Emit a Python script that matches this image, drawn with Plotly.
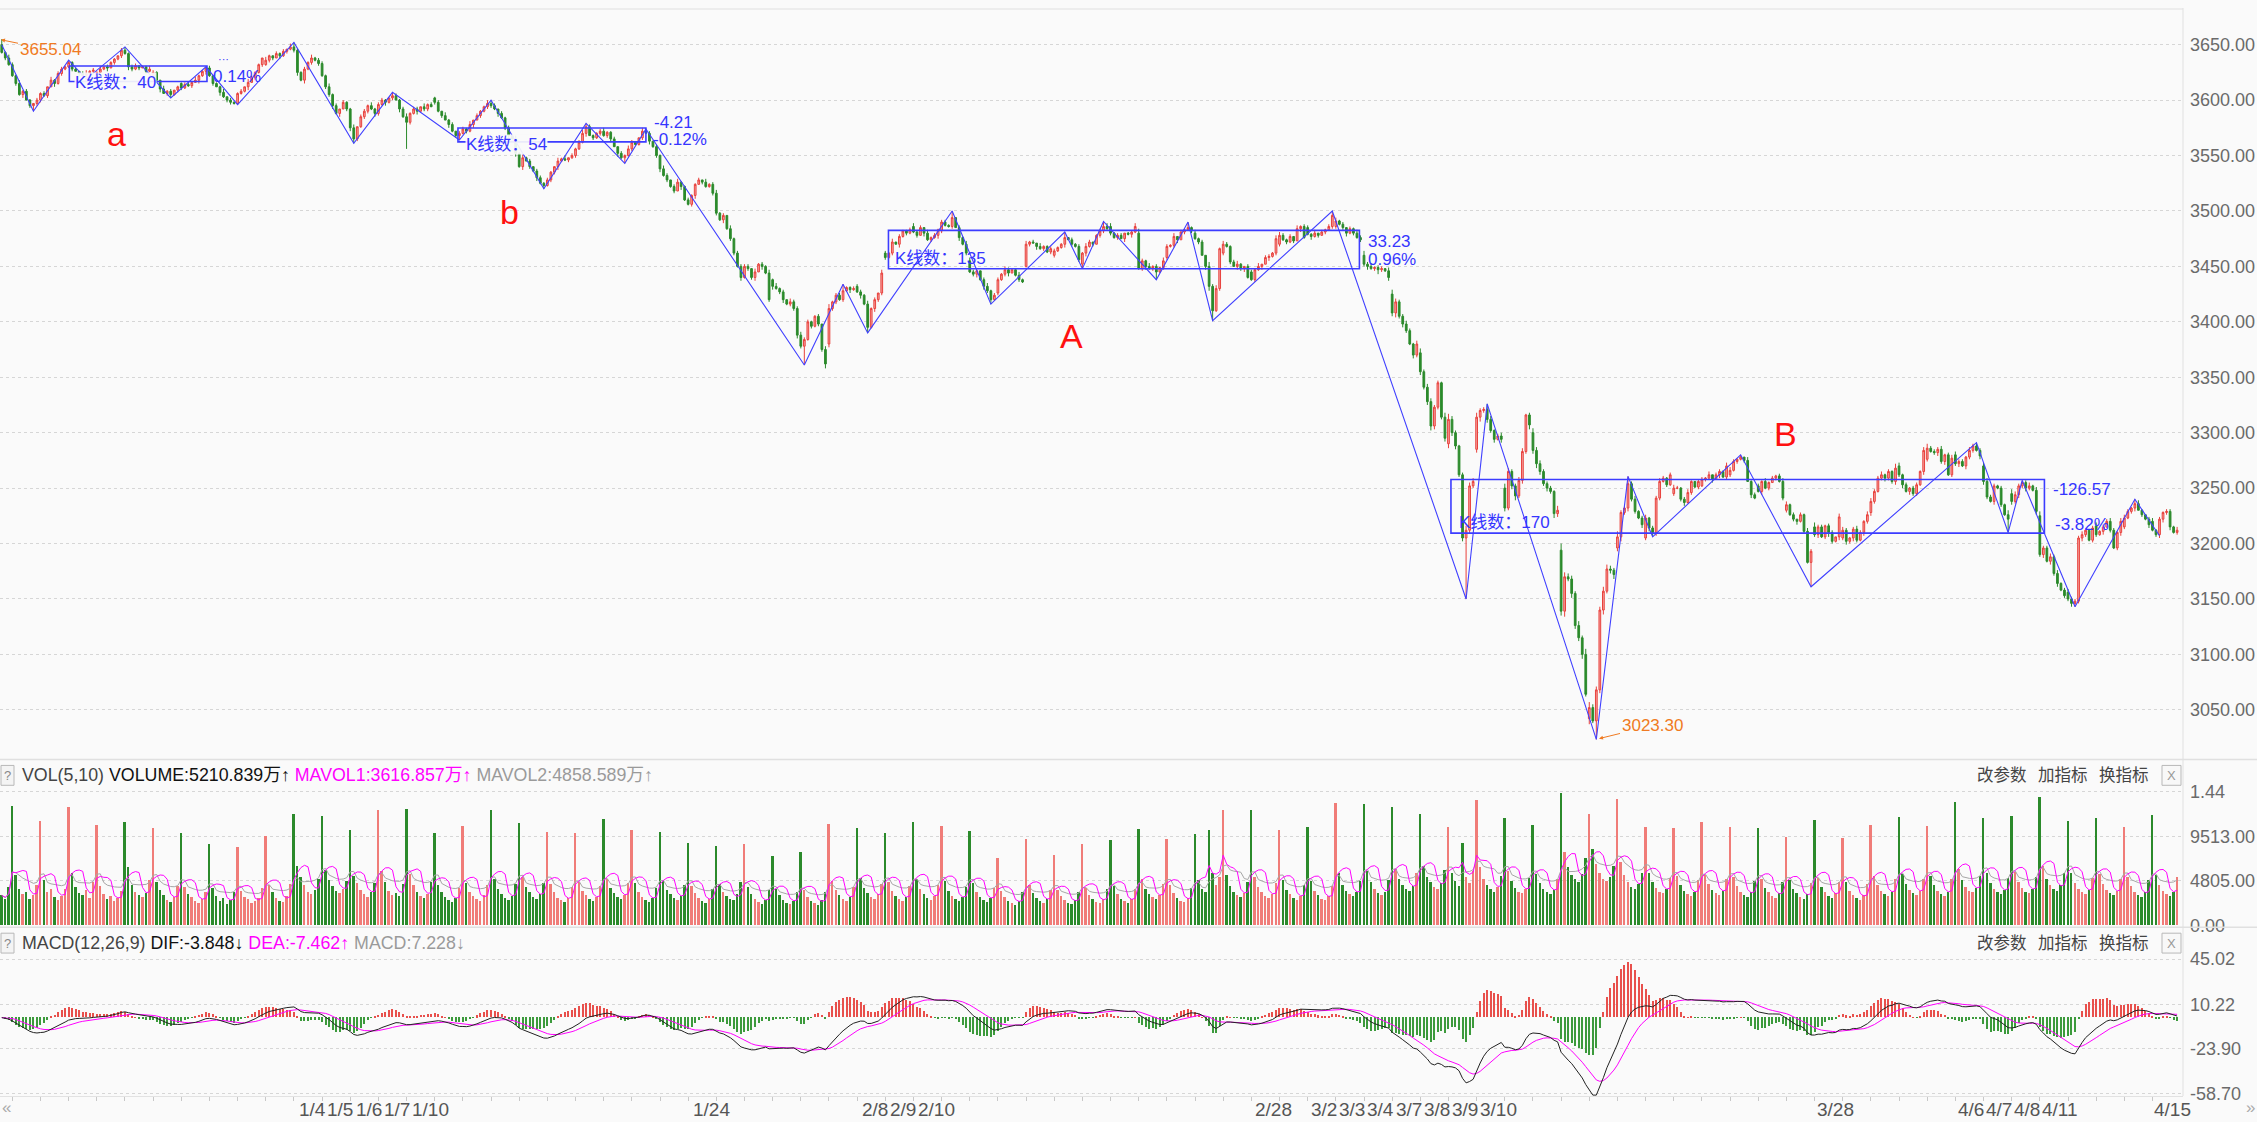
import numpy as np
import pandas as pd
import plotly.graph_objects as go

# ---------------- data (30-min bars) ----------------
FIRST_OPEN = 3650
FIRST_CLOSE = [3643, 3638, 3632]          # tail of the first (partial) day
FIRST_UW = [2, 1, 3]
FIRST_LW = [1, 2, 1]
FIRST_VOL = [3200, 2800, 4100]

DAY_DATES = ["12/20", "12/21", "12/22", "12/23", "12/24", "12/27", "12/28", "12/29", "12/30", "12/31",
             "1/4", "1/5", "1/6", "1/7", "1/10", "1/11", "1/12", "1/13", "1/14", "1/17",
             "1/18", "1/19", "1/20", "1/21", "1/24", "1/25", "1/26", "1/27", "1/28", "2/7",
             "2/8", "2/9", "2/10", "2/11", "2/14", "2/15", "2/16", "2/17", "2/18", "2/21",
             "2/22", "2/23", "2/24", "2/25", "2/28", "3/1", "3/2", "3/3", "3/4", "3/7",
             "3/8", "3/9", "3/10", "3/11", "3/14", "3/15", "3/16", "3/17", "3/18", "3/21",
             "3/22", "3/23", "3/24", "3/25", "3/28", "3/29", "3/30", "3/31", "4/1", "4/6",
             "4/7", "4/8", "4/11", "4/12", "4/13", "4/14", "4/15"]
SHOWN_DATES = ["1/4", "1/5", "1/6", "1/7", "1/10", "1/24", "2/8", "2/9", "2/10", "2/28",
               "3/2", "3/3", "3/4", "3/7", "3/8", "3/9", "3/10", "3/28", "4/6", "4/7", "4/8", "4/11", "4/15"]

DAY_OPEN = [3632, 3600, 3630, 3620, 3645, 3621, 3615, 3629, 3597, 3632,
            3648, 3633, 3592, 3588, 3585, 3602, 3570, 3597, 3552, 3523,
            3550, 3572, 3556, 3550, 3510, 3516, 3440, 3438, 3388, 3380,
            3432, 3462, 3486, 3482, 3455, 3426, 3450, 3460, 3452, 3486,
            3480, 3458, 3480, 3462, 3445, 3470, 3485, 3486, 3460, 3425,
            3372, 3290, 3285, 3250, 3300, 3194, 3042, 3196, 3205, 3245,
            3252, 3262, 3252, 3230, 3215, 3205, 3228, 3270, 3276, 3280,
            3270, 3245, 3225, 3156, 3216, 3215, 3220]

DAY_CLOSE = [
    [3622, 3615, 3605, 3608, 3600, 3595, 3597, 3600],
    [3606, 3604, 3612, 3618, 3615, 3624, 3628, 3630],
    [3634, 3628, 3626, 3624, 3622, 3624, 3626, 3627],
    [3625, 3628, 3630, 3629, 3634, 3637, 3640, 3645],
    [3642, 3630, 3628, 3631, 3629, 3630, 3626, 3628],
    [3625, 3618, 3610, 3606, 3608, 3605, 3609, 3612],
    [3611, 3614, 3613, 3616, 3618, 3622, 3626, 3629],
    [3622, 3615, 3612, 3607, 3603, 3600, 3598, 3597],
    [3606, 3608, 3612, 3616, 3620, 3625, 3632, 3638],
    [3636, 3640, 3638, 3642, 3640, 3644, 3646, 3648],
    [3645, 3625, 3618, 3628, 3634, 3638, 3636, 3633],
    [3622, 3612, 3605, 3595, 3588, 3592, 3598, 3592],
    [3575, 3565, 3576, 3585, 3590, 3595, 3592, 3588],
    [3596, 3600, 3598, 3602, 3604, 3600, 3592, 3585],
    [3580, 3588, 3592, 3590, 3594, 3592, 3596, 3594],
    [3598, 3590, 3586, 3582, 3578, 3572, 3568, 3570],
    [3574, 3572, 3578, 3582, 3586, 3590, 3594, 3597],
    [3595, 3592, 3588, 3584, 3575, 3568, 3565, 3552],
    [3540, 3548, 3545, 3540, 3536, 3530, 3525, 3523],
    [3528, 3535, 3540, 3545, 3547, 3546, 3548, 3550],
    [3556, 3562, 3570, 3576, 3568, 3566, 3570, 3572],
    [3568, 3571, 3565, 3558, 3552, 3548, 3550, 3556],
    [3562, 3560, 3566, 3572, 3570, 3563, 3558, 3550],
    [3538, 3532, 3528, 3522, 3518, 3526, 3522, 3510],
    [3506, 3514, 3524, 3528, 3526, 3522, 3524, 3516],
    [3498, 3492, 3496, 3484, 3475, 3462, 3450, 3440],
    [3450, 3448, 3440, 3445, 3452, 3450, 3444, 3420],
    [3432, 3430, 3427, 3420, 3416, 3418, 3412, 3388],
    [3378, 3384, 3400, 3396, 3405, 3398, 3375, 3362],
    [3412, 3418, 3424, 3420, 3428, 3431, 3429, 3430],
    [3427, 3424, 3416, 3395, 3412, 3420, 3426, 3444],
    [3458, 3462, 3472, 3470, 3477, 3482, 3480, 3483],
    [3481, 3478, 3485, 3480, 3474, 3476, 3478, 3483],
    [3490, 3487, 3486, 3494, 3485, 3476, 3470, 3462],
    [3445, 3443, 3446, 3438, 3432, 3428, 3420, 3424],
    [3438, 3443, 3447, 3444, 3447, 3442, 3438, 3436],
    [3470, 3472, 3471, 3468, 3466, 3468, 3463, 3466],
    [3464, 3467, 3470, 3476, 3474, 3470, 3468, 3456],
    [3462, 3468, 3472, 3470, 3478, 3482, 3486, 3484],
    [3480, 3476, 3478, 3475, 3480, 3479, 3481, 3486],
    [3448, 3455, 3450, 3448, 3450, 3445, 3449, 3455],
    [3468, 3469, 3477, 3474, 3481, 3483, 3485, 3482],
    [3475, 3472, 3460, 3450, 3432, 3410, 3430, 3466],
    [3470, 3468, 3454, 3450, 3452, 3448, 3450, 3440],
    [3438, 3447, 3450, 3452, 3458, 3459, 3462, 3475],
    [3478, 3474, 3472, 3477, 3473, 3484, 3486, 3476],
    [3479, 3477, 3480, 3478, 3481, 3483, 3486, 3496],
    [3491, 3488, 3485, 3480, 3484, 3480, 3476, 3474],
    [3452, 3450, 3448, 3449, 3447, 3448, 3446, 3440],
    [3408, 3418, 3405, 3398, 3392, 3380, 3370, 3380],
    [3355, 3341, 3328, 3306, 3323, 3345, 3314, 3295],
    [3312, 3300, 3288, 3262, 3205, 3212, 3252, 3256],
    [3314, 3320, 3321, 3312, 3302, 3294, 3297, 3294],
    [3232, 3265, 3252, 3243, 3257, 3283, 3316, 3307],
    [3284, 3272, 3265, 3254, 3250, 3247, 3227, 3230],
    [3139, 3170, 3168, 3155, 3126, 3115, 3100, 3064],
    [3052, 3040, 3068, 3140, 3157, 3177, 3176, 3172],
    [3206, 3228, 3232, 3254, 3240, 3229, 3223, 3217],
    [3223, 3214, 3210, 3241, 3256, 3259, 3253, 3262],
    [3250, 3250, 3240, 3237, 3246, 3256, 3251, 3256],
    [3258, 3259, 3262, 3258, 3262, 3265, 3260, 3270],
    [3266, 3274, 3276, 3278, 3275, 3256, 3244, 3241],
    [3247, 3256, 3250, 3255, 3259, 3261, 3256, 3241],
    [3235, 3226, 3222, 3220, 3226, 3211, 3183, 3193],
    [3208, 3215, 3206, 3216, 3210, 3202, 3206, 3224],
    [3212, 3202, 3205, 3213, 3203, 3210, 3220, 3226],
    [3238, 3247, 3259, 3262, 3259, 3265, 3256, 3268],
    [3262, 3253, 3247, 3250, 3245, 3253, 3265, 3284],
    [3286, 3283, 3282, 3285, 3274, 3280, 3262, 3277],
    [3272, 3274, 3270, 3278, 3284, 3288, 3284, 3279],
    [3256, 3242, 3238, 3252, 3250, 3235, 3226, 3222],
    [3238, 3244, 3252, 3255, 3250, 3252, 3248, 3229],
    [3190, 3196, 3184, 3188, 3173, 3164, 3158, 3153],
    [3150, 3146, 3148, 3205, 3208, 3212, 3203, 3214],
    [3208, 3211, 3215, 3220, 3212, 3196, 3210, 3220],
    [3223, 3229, 3232, 3236, 3230, 3226, 3222, 3217],
    [3212, 3208, 3222, 3228, 3229, 3215, 3210, 3212],
]

# upper / lower shadow lengths (points), one digit per bar, one string per day
UPPER_WICK = [
    "21312102", "12031221", "21102312", "13021102", "31220113", "21031201", "12203112", "20113021", "12032110", "31021203",
    "32121312", "21312021", "13022131", "22103212", "31220312", "12031202", "21302113", "32021203", "13120221", "21031302",
    "12302112", "31120213", "21031202", "13202311", "21120312", "31203122", "22031213", "13120322", "32211203", "41223112",
    "22131203", "21302112", "31203121", "22130213", "32102312", "21320131", "31203112", "21130212", "13201213", "31220113",
    "42131203", "21302121", "31204231", "32123102", "21302213", "32120312", "21302123", "31202132", "42312203", "43223213",
    "42332214", "53212433", "42223123", "43223312", "43322214", "64332425", "53334432", "52232312", "31223212", "32123102",
    "21302213", "32120312", "21312123", "31202132", "42212203", "32123213", "32231214", "31212213", "42223123", "32213212",
    "33221214", "43232313", "42232312", "32223212", "31223213", "32123102", "31212213"]
LOWER_WICK = [
    "12130212", "21203121", "12021312", "21130212", "13212021", "12302112", "21120313", "12031221", "21130212", "12203121",
    "23131212", "12231302", "31212213", "21312031", "42131220", "21203121", "12130212", "21312203", "13021312", "12230121",
    "21130212", "12303121", "21120312", "31212031", "12302112", "21312213", "12230312", "31231223", "23121224", "32212131",
    "13121322", "21203121", "12031213", "21120312", "12313231", "21230121", "12031212", "21130212", "13120221", "21203131",
    "12312312", "21230212", "12034212", "21203231", "12130312", "21212031", "13120212", "21231212", "23124213", "34232132",
    "32343223", "43323432", "34232313", "32342324", "34323243", "45243342", "52434234", "34232213", "23132121", "21231212",
    "12130312", "21212031", "13120212", "21231212", "23124213", "23232132", "32123223", "23132213", "21232312", "23132213",
    "32131212", "32323213", "23132312", "23123212", "21312123", "21230213", "12132312"]

# swing extremes (bar index -> price)
HIGH_AT = {0: 3655.04, 19: 3636, 35: 3648, 58: 3630, 83: 3652, 111: 3607, 139: 3600, 166: 3579,
           183: 3574, 239: 3434, 270: 3500, 302: 3481, 313: 3490.5, 337: 3490, 378: 3500, 422: 3326,
           462: 3260.6, 494: 3280, 561: 3291, 574: 3257, 606: 3240}
LOW_AT = {9: 3590, 24: 3619, 48: 3602, 67: 3596, 100: 3561, 115: 3556, 130: 3564, 154: 3520,
          177: 3543, 228: 3361, 246: 3390, 281: 3416, 307: 3448, 328: 3438, 344: 3401, 416: 3150,
          453: 3023.30, 469: 3206, 514: 3161, 570: 3210, 589: 3143, 613: 3205}

# volume (万), one list per day, first bar of every day is the opening spike
DAY_VOL = [
    [12770, 5400, 3900, 3300, 3600, 2800, 3200, 4300], [11240, 4800, 3500, 3900, 3000, 2700, 3100, 3900],
    [12700, 5600, 4100, 3400, 3200, 3800, 2900, 4600], [10790, 4200, 3300, 2800, 3100, 2600, 2900, 3700],
    [11070, 6200, 4300, 3600, 3200, 3000, 3400, 4800], [10440, 4600, 3800, 3200, 2700, 2500, 3000, 4200],
    [9850, 4100, 3300, 3000, 2600, 2400, 2800, 3600], [8700, 4000, 3100, 2600, 2900, 2300, 2700, 3500],
    [8350, 3700, 3000, 2800, 2400, 2600, 2900, 4000], [9570, 4300, 3500, 2900, 2600, 2500, 3100, 4400],
    [11940, 6400, 5200, 4300, 3600, 3300, 3800, 5000], [11760, 5900, 4800, 4200, 3700, 3400, 3900, 4700],
    [10270, 5300, 4500, 3800, 3300, 3000, 3600, 4500], [12350, 5800, 4600, 3700, 3200, 3400, 3100, 4400],
    [12530, 5500, 4300, 3600, 3100, 2900, 3300, 4600], [9850, 4300, 3500, 3000, 2700, 2500, 2900, 4000],
    [10610, 4500, 3600, 3100, 2800, 2600, 3200, 4300], [12420, 5000, 3900, 3300, 2900, 2700, 3100, 4400],
    [10960, 5200, 4100, 3500, 3000, 2800, 3300, 4500], [9990, 4400, 3500, 2900, 2700, 2500, 2900, 4100],
    [9850, 4600, 3700, 3200, 2800, 2600, 3000, 4200], [11380, 5000, 4000, 3400, 3000, 2800, 3200, 4500],
    [10200, 4500, 3600, 3000, 2700, 2500, 2900, 4000], [9990, 4800, 3800, 3300, 2900, 2700, 3100, 4300],
    [8800, 4200, 3400, 2900, 2600, 2400, 2800, 3900], [8530, 4400, 3600, 3100, 2800, 2700, 3300, 4600],
    [8700, 4100, 3300, 2800, 2500, 2300, 2700, 3800], [7410, 3900, 3200, 2700, 2400, 2300, 2600, 3600],
    [7900, 3800, 3000, 2600, 2400, 2200, 2700, 3500], [10890, 4700, 3800, 3200, 2800, 2600, 3000, 4100],
    [10440, 5100, 4000, 3400, 3000, 2800, 3300, 4400], [9850, 4600, 3700, 3100, 2800, 2600, 3000, 4200],
    [11030, 5000, 3900, 3300, 2900, 2700, 3100, 4300], [10610, 4700, 3700, 3100, 2800, 2600, 3000, 4100],
    [10090, 4500, 3600, 3000, 2700, 2500, 2900, 4000], [7200, 3700, 3000, 2600, 2400, 2200, 2600, 3500],
    [9290, 4300, 3400, 2900, 2600, 2400, 2800, 3800], [7480, 3800, 3100, 2700, 2400, 2300, 2700, 3600],
    [8670, 4000, 3200, 2800, 2500, 2400, 2800, 3900], [9150, 4200, 3300, 2800, 2600, 2400, 2800, 3900],
    [10340, 4900, 3900, 3300, 3000, 2800, 3200, 4400], [9220, 4300, 3400, 2900, 2600, 2500, 2900, 4000],
    [9740, 4800, 3900, 3500, 10200, 5600, 4300, 5200], [12350, 5400, 4200, 3600, 3200, 3000, 3400, 4600],
    [12420, 5200, 4100, 3500, 3100, 2900, 3300, 4500], [10200, 4800, 3800, 3300, 2900, 2700, 3100, 4300],
    [10540, 4700, 3700, 3200, 2800, 2700, 3100, 4200], [13120, 5600, 4300, 3700, 3300, 3100, 3500, 4700],
    [13050, 5800, 4600, 3900, 3400, 3200, 3600, 4800], [12700, 6000, 4900, 4300, 3900, 3700, 4200, 5600],
    [11940, 6300, 5200, 4600, 4100, 3900, 4500, 5900], [10540, 5600, 4700, 4200, 8800, 5200, 4500, 5800],
    [13400, 6200, 5000, 4300, 3900, 3600, 4100, 5300], [11480, 5800, 4700, 4000, 3600, 3400, 3900, 5100],
    [10790, 5500, 4500, 3900, 3500, 3300, 3800, 5000], [14160, 7800, 6200, 5400, 4900, 4600, 5500, 7200],
    [11940, 8200, 6600, 5600, 5000, 4700, 5200, 6400], [13570, 6800, 5400, 4600, 4100, 3900, 4400, 5600],
    [10540, 5600, 4600, 4000, 3600, 3400, 3900, 5100], [10440, 5300, 4300, 3700, 3300, 3100, 3600, 4800],
    [11030, 5400, 4400, 3800, 3400, 3200, 3700, 4900], [10540, 5200, 4200, 3600, 3200, 3000, 3500, 4700],
    [10440, 5000, 4000, 3500, 3100, 2900, 3400, 4600], [9500, 4800, 3900, 3400, 3000, 2800, 3300, 4500],
    [11310, 5100, 4100, 3500, 3100, 2900, 3400, 4600], [9400, 4600, 3700, 3200, 2900, 2700, 3200, 4400],
    [10790, 5300, 4300, 3700, 3300, 3100, 3600, 4900], [11660, 5500, 4400, 3800, 3400, 3200, 3700, 5000],
    [10680, 5300, 4300, 3700, 3300, 3100, 3600, 4900], [13220, 6000, 4800, 4100, 3700, 3500, 4000, 5300],
    [11480, 5600, 4500, 3900, 3500, 3300, 3800, 5100], [11730, 5700, 4600, 4000, 3600, 3400, 3900, 5200],
    [13750, 6300, 5000, 4300, 3900, 3700, 4300, 5600], [11240, 5600, 4500, 3900, 3500, 3300, 3800, 5100],
    [11480, 5500, 4400, 3800, 3400, 3200, 3700, 5000], [10540, 5200, 4200, 3600, 3200, 3000, 3500, 4800],
    [11830, 5400, 4300, 3700, 3300, 3100, 3600, 5211],
]

# zig-zag swing line (bar index, price)
ZZ_BAR = [0, 9, 19, 24, 35, 48, 58, 67, 83, 100, 111, 130, 139, 154, 166, 177, 183, 228, 239, 246,
          270, 281, 302, 307, 313, 328, 337, 344, 378, 416, 422, 453, 462, 469, 494, 514, 561, 570,
          574, 589, 606, 613]
ZZ_PRICE = [3650, 3590, 3636, 3619, 3648, 3602, 3630, 3596, 3652, 3561, 3607, 3564, 3600, 3520,
            3579, 3543, 3574, 3361, 3434, 3390, 3500, 3416, 3481, 3448, 3490.5, 3438, 3490, 3401,
            3500, 3150, 3326, 3023.3, 3260.6, 3206, 3280, 3161, 3291, 3210, 3257, 3143, 3240, 3207]

# consolidation boxes: start bar, end bar, top, bottom, labels
BOX_START = [19.2, 129.6, 251.9, 411.7]
BOX_END = [58.3, 183.0, 385.7, 580.3]
BOX_TOP = [3630.8, 3574.8, 3482.5, 3257.8]
BOX_BOTTOM = [3616.8, 3562.3, 3447.9, 3209.4]
BOX_COUNT = ["K线数：40", "K线数：54", "K线数：135", "K线数：170"]
BOX_DIFF = ["···", "-4.21", "33.23", "-126.57"]
BOX_PCT = ["0.14%", "-0.12%", "0.96%", "-3.82%"]
WAVE_LETTERS = ["a", "b", "A", "B"]

MAIN_TICKS = [3050, 3100, 3150, 3200, 3250, 3300, 3350, 3400, 3450, 3500, 3550, 3600, 3650]
VOL_TICKS = [0, 4805, 9513, 14400]
VOL_TICK_TEXT = ["0.00", "4805.00", "9513.00", "1.44"]
MACD_TICKS = [45.02, 10.22, -23.90, -58.70]

# ---------------- build series ----------------
closes = list(FIRST_CLOSE) + [c for d in DAY_CLOSE for c in d]
uw = list(FIRST_UW) + [int(ch) for s in UPPER_WICK for ch in s]
lw = list(FIRST_LW) + [int(ch) for s in LOWER_WICK for ch in s]
vols = list(FIRST_VOL) + [v for d in DAY_VOL for v in d]
n = len(closes)
day_start = [3 + 8 * k for k in range(len(DAY_CLOSE))]
opens = [FIRST_OPEN] + closes[:-1]
for k, j in enumerate(day_start):
    opens[j] = DAY_OPEN[k]
highs, lows = [], []
for j in range(n):
    hi = max(opens[j], closes[j]) + uw[j]
    lo = min(opens[j], closes[j]) - lw[j]
    if j in HIGH_AT:
        hi = max(HIGH_AT[j], max(opens[j], closes[j]))
    if j in LOW_AT:
        lo = min(LOW_AT[j], min(opens[j], closes[j]))
    highs.append(hi)
    lows.append(lo)
idx = list(range(n))
up = [closes[j] >= opens[j] for j in idx]

cs = pd.Series(closes, dtype=float)
dif = cs.ewm(span=12, adjust=False).mean() - cs.ewm(span=26, adjust=False).mean()
dea = dif.ewm(span=9, adjust=False).mean()
macd = 2 * (dif - dea)
vs = pd.Series(vols, dtype=float)
mavol1 = vs.rolling(5, min_periods=1).mean()
mavol2 = vs.rolling(10, min_periods=1).mean()

# ---------------- styling ----------------
BG = "#fafafa"
RED = "#e8413c"
RED_FILL = "#f5a3a0"
GREEN = "#2b8a2b"
BLUE = "#3535ff"
FONT = "Liberation Sans, Noto Sans CJK SC, sans-serif"
W_PLOT, H_PLOT = 2183, 1096
BAR_PX = W_PLOT / 620.17


def px(x):
    return x / W_PLOT


def py(y):
    return (H_PLOT - y) / H_PLOT


fig = go.Figure()
fig.add_trace(go.Candlestick(
    x=idx, open=opens, high=highs, low=lows, close=closes,
    increasing=dict(line=dict(color=RED, width=1), fillcolor=RED_FILL),
    decreasing=dict(line=dict(color=GREEN, width=1), fillcolor=GREEN),
    whiskerwidth=0, showlegend=False, hoverinfo="skip", xaxis="x", yaxis="y"))
fig.add_trace(go.Scatter(x=ZZ_BAR, y=ZZ_PRICE, mode="lines", line=dict(color="#4040ff", width=1.1),
                         showlegend=False, hoverinfo="skip", xaxis="x", yaxis="y"))

fig.add_trace(go.Bar(x=idx, y=vols, width=0.55,
                     marker=dict(color=["#f07c78" if u else GREEN for u in up], line=dict(width=0)),
                     showlegend=False, hoverinfo="skip", xaxis="x", yaxis="y2"))
fig.add_trace(go.Scatter(x=idx, y=mavol2, mode="lines", line=dict(color="#a6a6a6", width=1),
                         showlegend=False, hoverinfo="skip", xaxis="x", yaxis="y2"))
fig.add_trace(go.Scatter(x=idx, y=mavol1, mode="lines", line=dict(color="#ff00ff", width=1),
                         showlegend=False, hoverinfo="skip", xaxis="x", yaxis="y2"))

fig.add_trace(go.Bar(x=idx, y=macd, width=0.3,
                     marker=dict(color=["#e8504c" if v >= 0 else "#3c9a3c" for v in macd], line=dict(width=0)),
                     showlegend=False, hoverinfo="skip", xaxis="x", yaxis="y3"))
fig.add_trace(go.Scatter(x=idx, y=dea, mode="lines", line=dict(color="#ff00ff", width=1),
                         showlegend=False, hoverinfo="skip", xaxis="x", yaxis="y3"))
fig.add_trace(go.Scatter(x=idx, y=dif, mode="lines", line=dict(color="#222222", width=1),
                         showlegend=False, hoverinfo="skip", xaxis="x", yaxis="y3"))

axis_font = dict(family=FONT, size=18, color="#6a6a6a")
common_y = dict(side="right", showgrid=True, gridcolor="#d6d6d6", griddash="dot", gridwidth=1,
                zeroline=False, ticks="", tickfont=axis_font, showline=False, anchor="x",
                ticklabelstandoff=6, fixedrange=True)

fig.update_layout(
    width=2257, height=1122,
    margin=dict(l=0, r=74, t=0, b=26),
    paper_bgcolor=BG, plot_bgcolor=BG,
    bargap=0, barmode="overlay",
    font=dict(family=FONT, size=18, color="#333"),
    xaxis=dict(domain=[0, 1], range=[-0.5, 619.67], anchor="y3", showgrid=False, zeroline=False,
               tickvals=day_start, ticktext=[""] * len(day_start), ticks="outside", ticklen=4,
               tickcolor="#c8c8c8", showline=True, linecolor="#e2e2e2",
               rangeslider=dict(visible=False), fixedrange=True),
    yaxis=dict(domain=[py(757), 1.0], range=[3005.2, 3683.1], tickvals=MAIN_TICKS,
               ticktext=[f"{v:.2f}" for v in MAIN_TICKS], **common_y),
    yaxis2=dict(domain=[py(924), py(787)], range=[0, 14630], tickvals=VOL_TICKS,
                ticktext=VOL_TICK_TEXT, **common_y),
    yaxis3=dict(domain=[0, py(927)], range=[-60.24, 68.67], tickvals=MACD_TICKS,
                ticktext=[f"{v:.2f}" for v in MACD_TICKS], **common_y),
)

shapes = []
# boxes
for s, e, t, b in zip(BOX_START, BOX_END, BOX_TOP, BOX_BOTTOM):
    shapes.append(dict(type="rect", xref="x", yref="y", x0=s, x1=e, y0=b, y1=t,
                       line=dict(color="#3c3cff", width=1.6), fillcolor="rgba(0,0,0,0)"))
# frame / separators
LINE = "#e0e0e0"
shapes += [
    dict(type="line", xref="paper", yref="paper", x0=1, x1=1, y0=py(1096), y1=1, line=dict(color=LINE, width=1)),
    dict(type="line", xref="paper", yref="paper", x0=0, x1=px(2257), y0=py(757), y1=py(757), line=dict(color=LINE, width=1.5)),
    dict(type="line", xref="paper", yref="paper", x0=0, x1=px(2257), y0=py(926), y1=py(926), line=dict(color=LINE, width=1.5)),
    dict(type="line", xref="paper", yref="paper", x0=0, x1=1, y0=py(1), y1=py(1), line=dict(color=LINE, width=1)),
]
# "?" boxes and close boxes in indicator headers
for yc in (773, 942):
    shapes.append(dict(type="rect", xref="paper", yref="paper", x0=px(1), x1=px(14), y0=py(yc + 10), y1=py(yc - 10),
                       line=dict(color="#b8b8b8", width=1), fillcolor="#f4f4f4"))
    shapes.append(dict(type="rect", xref="paper", yref="paper", x0=px(2162), x1=px(2181), y0=py(yc + 10), y1=py(yc - 10),
                       line=dict(color="#b8b8b8", width=1), fillcolor="#f8f8f8"))
fig.update_layout(shapes=shapes)

ann = []


def text(t, x, y, color="#333", size=18, xanchor="left", bg=None, yanchor="middle"):
    d = dict(text=t, x=px(x), y=py(y), xref="paper", yref="paper", showarrow=False,
             xanchor=xanchor, yanchor=yanchor, font=dict(family=FONT, size=size, color=color))
    if bg:
        d["bgcolor"] = bg
        d["borderpad"] = 0
    ann.append(d)


# box labels (pixel positions of the labels)
COUNT_POS = [(74, 75), (465, 138), (893, 252), (1457, 518)]
DIFF_POS = [(216, 51), (652, 115), (1366, 235), (2051, 485)]
PCT_POS = [(211, 69), (651, 132), (1366, 253), (2053, 520)]
for i in range(4):
    text(BOX_COUNT[i], *COUNT_POS[i], color=BLUE, size=17, bg=("rgba(250,250,250,0.92)" if i < 2 else None))
    text(BOX_DIFF[i], *DIFF_POS[i], color=BLUE, size=(11 if i == 0 else 17))
    text(BOX_PCT[i], *PCT_POS[i], color=BLUE, size=17)

LETTER_POS = [(116, 127), (509, 206), (1071, 330), (1785, 429)]
for t, (x, y) in zip(WAVE_LETTERS, LETTER_POS):
    text(t, x, y, color="#ff1010", size=34, xanchor="center")

# extreme price markers
ORANGE = "#f07a22"
ann.append(dict(text="3655.04", x=px(1), y=py(32), xref="paper", yref="paper", showarrow=True,
                ax=49, ay=10, arrowhead=2, arrowsize=0.8, arrowwidth=1, arrowcolor=ORANGE,
                font=dict(family=FONT, size=17, color=ORANGE)))
ann.append(dict(text="3023.30", x=px(1599), y=py(736), xref="paper", yref="paper", showarrow=True,
                ax=53, ay=-13, arrowhead=2, arrowsize=0.8, arrowwidth=1, arrowcolor=ORANGE,
                font=dict(family=FONT, size=17, color=ORANGE)))

# indicator headers
text("?", 7.5, 773, color="#888", size=13, xanchor="center")
text("?", 7.5, 942, color="#888", size=13, xanchor="center")
text("VOL(5,10) <span style='color:#111'>VOLUME:5210.839万↑</span> "
     "<span style='color:#ff00ff'>MAVOL1:3616.857万↑</span> "
     "<span style='color:#9a9a9a'>MAVOL2:4858.589万↑</span>", 20, 773, color="#444", size=17.8)
text("MACD(12,26,9) <span style='color:#111'>DIF:-3.848↓</span> "
     "<span style='color:#ff00ff'>DEA:-7.462↑</span> "
     "<span style='color:#9a9a9a'>MACD:7.228↓</span>", 20, 942, color="#444", size=17.8)
for yc in (773, 942):
    text("改参数", 1975, yc, color="#444", size=16.5)
    text("加指标", 2036, yc, color="#444", size=16.5)
    text("换指标", 2097, yc, color="#444", size=16.5)
    text("X", 2171.5, yc, color="#999", size=13, xanchor="center")

# date labels on the time axis (left edge a few pixels right of the day's first bar)
date_bar = {d: day_start[k] for k, d in enumerate(DAY_DATES)}
for d in SHOWN_DATES:
    j = date_bar[d]
    shift_px = 5.0 - 4.0 * j / 611.0
    ann.append(dict(text=d, x=j + shift_px / BAR_PX, y=py(1121), xref="x", yref="paper", showarrow=False,
                    xanchor="left", yanchor="bottom", borderpad=0,
                    font=dict(family=FONT, size=19, color="#555")))

text("«", 0, 1108, color="#aaa", size=17)
text("»", 2244, 1108, color="#aaa", size=17)

fig.update_layout(annotations=ann)
fig.write_html("out.html")
